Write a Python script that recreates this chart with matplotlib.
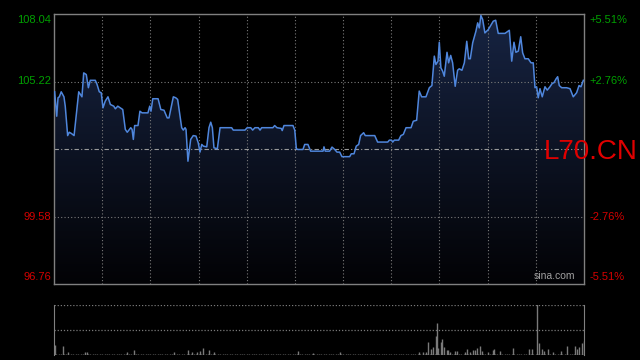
import matplotlib
matplotlib.use("Agg")
import matplotlib.pyplot as plt
import numpy as np
from matplotlib.patches import Polygon

# intraday price, minutes from open
t = [0.4, 1.7, 2.5, 3.3, 4.5, 6.2, 7.0, 8.5, 9.5, 10.8, 12.5, 13.7, 15.4, 17.4, 18.5, 20.1,
     21.4, 22.6, 25.7, 26.8, 28.2, 29.4, 30.5, 31.9, 33.6, 35.1, 37.2, 38.2, 39.7, 41.3, 42.8,
     44.4, 45.6, 47.8, 48.6, 49.4, 50.2, 52.3, 53.5, 54.8, 58.5, 59.6, 60.4, 61.5, 64.8, 66.5,
     68.5, 70.5, 71.6, 74.3, 75.8, 77.0, 79.5, 80.5, 81.6, 82.2, 83.4, 85.1, 86.7, 88.4, 89.8,
     90.9, 92.0, 93.0, 95.1, 96.5, 97.6, 98.6, 99.6, 101.7, 103.4, 110.6, 111.6, 118.9, 120.3,
     122.5, 123.7, 125.1, 127.2, 128.3, 129.3, 136.3, 137.4, 138.8, 141.5, 142.1, 143.2, 148.8,
     149.9, 150.9, 151.9, 155.0, 156.1, 158.1, 159.8, 167.5, 168.1, 168.9, 171.6, 173.1, 174.8,
     176.2, 177.9, 179.3, 184.1, 185.1, 186.8, 188.2, 189.7, 190.9, 192.8, 193.8, 199.7, 201.5,
     207.8, 208.8, 210.2, 210.9, 211.9, 214.6, 216.0, 217.5, 219.2, 222.3, 223.7, 225.8, 227.4,
     228.9, 231.6, 233.7, 235.3, 236.8, 237.8, 239.1, 239.9, 240.9, 242.0, 243.0, 244.7, 245.7,
     247.0, 248.2, 249.8, 251.3, 252.3, 254.0, 255.5, 257.0, 258.2, 259.2, 260.7, 262.7, 263.8,
     264.8, 265.8, 266.9, 268.3, 270.4, 273.5, 275.0, 276.6, 280.8, 283.5, 285.0, 286.4, 287.6,
     289.1, 290.6, 291.8, 293.2, 295.3, 297.0, 298.4, 299.5, 300.5, 301.5, 302.6, 304.0, 305.7,
     307.1, 308.8, 310.2, 311.3, 312.6, 313.6, 314.6, 316.1, 319.2, 321.3, 323.3, 325.4, 326.9,
     328.1, 329.6]
price = [104.79, 103.77, 104.54, 104.58, 104.79, 104.58, 104.19, 102.96, 103.10, 103.05, 102.96,
         103.70, 104.79, 104.58, 105.58, 105.51, 104.96, 105.27, 105.27, 105.10, 104.79, 104.75,
         104.12, 104.40, 104.58, 104.26, 104.19, 104.08, 104.19, 104.12, 104.05, 103.22, 103.10,
         103.29, 103.22, 102.80, 103.38, 103.38, 103.98, 103.91, 103.91, 104.19, 103.98, 104.50,
         104.50, 104.05, 104.02, 103.70, 103.70, 104.58, 104.54, 104.47, 103.29, 103.19, 103.29,
         103.22, 101.89, 102.80, 102.96, 102.94, 102.66, 102.27, 102.59, 102.52, 102.49, 103.29,
         103.52, 103.29, 102.45, 102.41, 103.29, 103.29, 103.19, 103.19, 103.29, 103.29, 103.19,
         103.29, 103.29, 103.19, 103.29, 103.29, 103.38, 103.29, 103.26, 103.17, 103.38, 103.38,
         103.19, 102.41, 102.38, 102.38, 102.59, 102.59, 102.31, 102.31, 102.49, 102.31, 102.31,
         102.48, 102.38, 102.27, 102.27, 102.08, 102.08, 102.20, 102.20, 102.52, 102.59, 102.96,
         103.08, 102.96, 102.96, 102.69, 102.69, 102.77, 102.77, 102.69, 102.77, 102.77, 102.96,
         103.01, 103.29, 103.29, 103.56, 103.60, 104.82, 104.58, 104.58, 104.96, 105.05, 106.28,
         105.93, 106.07, 106.86, 105.79, 105.65, 105.44, 106.44, 106.00, 106.31, 106.00, 105.02,
         105.69, 105.75, 105.69, 106.00, 106.90, 106.17, 106.17, 106.84, 107.32, 107.67, 107.46,
         107.98, 107.81, 107.25, 107.39, 107.74, 107.78, 107.23, 107.23, 107.36, 106.07, 106.86,
         106.44, 106.49, 107.09, 106.42, 106.17, 106.17, 106.00, 106.00, 104.96, 105.00, 104.54,
         104.92, 104.58, 105.00, 104.86, 105.00, 105.14, 105.17, 105.33, 105.42, 105.05, 104.96,
         104.96, 104.92, 104.58, 104.75, 105.05, 105.00, 105.27]

# notable volume bars (minute, relative size); other minutes carry a tiny base volume
vol_t = [0.6, 5.8, 8.5, 19.3, 20.5, 45.3, 50.0, 74.9, 83.6, 85.7, 88.8, 90.9, 93.0, 96.7, 99.8,
         151.7, 161.1, 178.1, 227.4, 229.9, 231.6, 233.0, 234.5, 236.2, 237.6, 238.3, 239.3, 240.8,
         241.4, 242.8, 244.5, 245.5, 246.5, 249.7, 250.7, 255.9, 257.3, 259.0, 260.7, 262.1, 263.5,
         265.2, 266.3, 270.4, 273.5, 274.1, 277.7, 285.6, 295.9, 297.4, 300.5, 302.2, 303.6, 305.3,
         307.4, 310.5, 315.5, 319.2, 324.4, 325.8, 327.0, 328.9, 330.0]
vol = [10, 9, 2.7, 3, 3, 3, 5, 3, 5, 3, 3, 4, 7, 5, 3,
       4, 2, 3, 3, 3, 3, 13, 6, 8, 19, 32, 7, 13,
       16, 8, 5, 5, 3, 4, 4, 3, 6, 3, 5, 5, 7,
       9, 4, 3, 5, 6, 4, 7, 6, 6, 60, 12, 6, 4,
       6, 3, 4, 9, 9, 6, 8, 12, 14]
base_t = np.arange(0, 331, 1.5)
base_vol = 1.2

prev_close = 102.40
y_ticks = [108.04, 105.22, 99.58, 96.76]
left_labels = ["108.04", "105.22", "99.58", "96.76"]
right_labels = ["+5.51%", "+2.76%", "-2.76%", "-5.51%"]
label_colors = ["#00a000", "#00a000", "#d40000", "#d40000"]
symbol = "L70.CN"

t_max = 330
ymin, ymax = 96.76, 108.04

fig = plt.figure(figsize=(6.4, 3.6), dpi=100, facecolor="black")
ax = fig.add_axes([54 / 640, 1 - 284 / 360, 530 / 640, 270 / 360])
ax.set_facecolor("black")
ax.set_xlim(0, t_max)
ax.set_ylim(ymin, ymax)

# gradient fill under the line
grad = np.linspace(1, 0, 256).reshape(-1, 1)
top_c = np.array([0.09, 0.14, 0.26])
bot_c = np.array([0.01, 0.01, 0.02])
img = top_c * grad[..., None] + bot_c * (1 - grad[..., None])
im = ax.imshow(img, extent=[0, t_max, ymin, ymax], aspect="auto", origin="upper", zorder=1)
verts = [(t[0], ymin)] + list(zip(t, price)) + [(t[-1], ymin)]
poly = Polygon(verts, closed=True, facecolor="none", edgecolor="none")
ax.add_patch(poly)
im.set_clip_path(poly)

# grid
grid_kw = dict(color="#7a7a7a", lw=0.8, ls=(0, (1, 2)), zorder=2)
for yv in [105.22, 99.58]:
    ax.axhline(yv, **grid_kw)
for i in range(1, 11):
    ax.axvline(i * t_max / 11, **grid_kw)
ax.axhline(prev_close, color="#9a9a9a", lw=0.8, ls=(0, (4, 2, 1, 2)), zorder=2)

ax.plot(t, price, color="#4f86dc", lw=1.1, zorder=3)

for s in ax.spines.values():
    s.set_color("#808080")
    s.set_linewidth(1)
ax.set_xticks([])
ax.set_yticks([])

# axis labels
vas = ["top", "center", "center", "bottom"]
offs = [-0.03, 0, 0, 0.08]
for yv, ll, rl, c, va, o in zip(y_ticks, left_labels, right_labels, label_colors, vas, offs):
    ax.text(-0.006, yv + o, ll, transform=ax.get_yaxis_transform(), ha="right", va=va,
            color=c, fontsize=8, family="Liberation Sans")
    ax.text(1.011, yv + o, rl, transform=ax.get_yaxis_transform(), ha="left", va=va,
            color=c, fontsize=8, family="Liberation Sans")

fig.text(544 / 640, 1 - 159 / 360, symbol, color="#e00000", fontsize=20,
         family="Liberation Sans", ha="left", va="baseline")
ax.text(0.983, 0.012, "sina.com", transform=ax.transAxes, color="#a0a0a0", fontsize=7.5,
        family="Liberation Sans", ha="right", va="bottom")

# volume panel
vax = fig.add_axes([54 / 640, 1 - 355 / 360, 530 / 640, 50.3 / 360])
vax.set_facecolor("black")
vax.set_xlim(0, t_max)
vax.set_ylim(0, 50)
vax.vlines(base_t, 0, base_vol, color="#6e6e6e", lw=1)
vax.vlines(vol_t, 0, vol, color="#7a7a7a", lw=1)
for yv in [25, 50]:
    vax.axhline(yv, color="#7a7a7a", lw=0.9, ls=(0, (1, 1.5)))
for k in ["top", "bottom"]:
    vax.spines[k].set_visible(False)
for k in ["left", "right"]:
    vax.spines[k].set_color("#808080")
vax.set_xticks([])
vax.set_yticks([])

fig.savefig("out.png", dpi=100, facecolor="black")
